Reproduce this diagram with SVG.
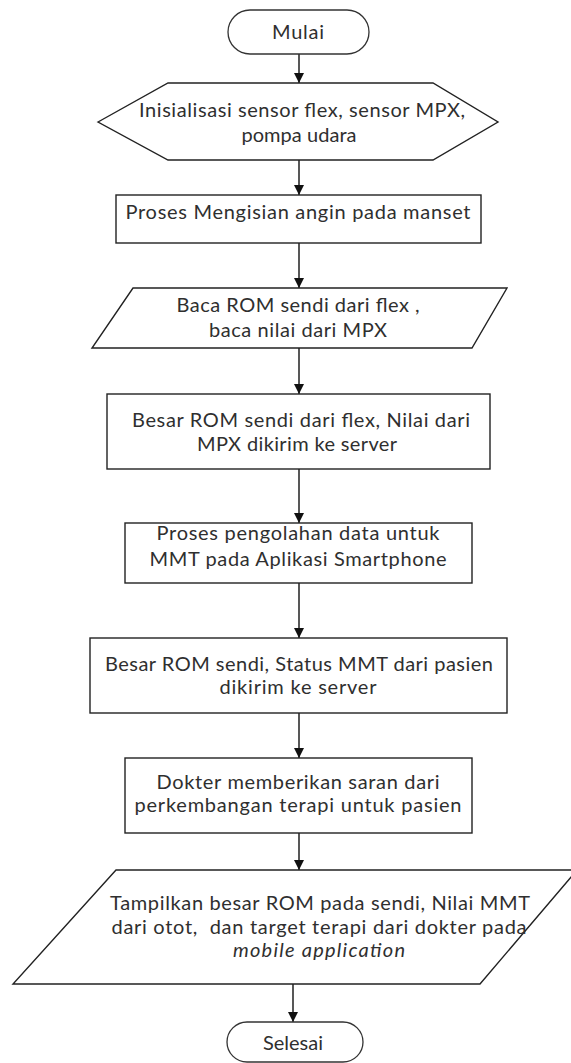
<svg xmlns="http://www.w3.org/2000/svg" width="571" height="1063" viewBox="0 0 571 1063">
  <style>
    .shape { fill: #ffffff; stroke: #222222; stroke-width: 1.4; }
    .term { fill: #ffffff; stroke: #333333; stroke-width: 1.3; }
    .label { font-family: Lato, "Open Sans", "Liberation Sans", sans-serif; font-size: 20px; fill: #2f2f2f; text-anchor: middle; white-space: pre; }
    .it { font-style: italic; }
    .flow { stroke: #111111; stroke-width: 1.4; fill: none; marker-end: url(#arrow); }
  </style>
  <defs>
    <marker id="arrow" markerUnits="userSpaceOnUse" markerWidth="10" markerHeight="10" refX="10" refY="5" orient="auto">
      <path d="M0,0 L10,5 L0,10 Z" fill="#111111"/>
    </marker>
  </defs>

  <rect width="571" height="1063" fill="#ffffff"/>

  <!-- connectors -->
  <g id="connectors">
    <line class="flow" x1="299" y1="54" x2="299" y2="83"/>
    <line class="flow" x1="299" y1="160" x2="299" y2="195"/>
    <line class="flow" x1="299" y1="243" x2="299" y2="288"/>
    <line class="flow" x1="299" y1="348" x2="299" y2="394"/>
    <line class="flow" x1="299" y1="469" x2="299" y2="523"/>
    <line class="flow" x1="299" y1="583" x2="299" y2="638"/>
    <line class="flow" x1="299" y1="713" x2="299" y2="758"/>
    <line class="flow" x1="299" y1="833" x2="299" y2="870"/>
    <line class="flow" x1="293" y1="984" x2="293" y2="1022"/>
  </g>

  <!-- start terminator -->
  <g id="start">
    <rect class="term" x="228" y="10" width="141" height="44" rx="22" ry="22"/>
    <text class="label" x="298" y="39" textLength="52">Mulai</text>
  </g>

  <!-- preparation: initialisation -->
  <g id="init">
    <polygon class="shape" points="98,122 168,83 433,83 498,122 433,160 168,160"/>
    <text class="label" x="302" y="117" textLength="326">Inisialisasi sensor flex, sensor MPX,</text>
    <text class="label" x="299" y="142" textLength="115">pompa udara</text>
  </g>

  <!-- process: inflate cuff -->
  <g id="inflate">
    <rect class="shape" x="116" y="195" width="365" height="48"/>
    <text class="label" x="298" y="219" textLength="345">Proses Mengisian angin pada manset</text>
  </g>

  <!-- input: read sensors -->
  <g id="read">
    <polygon class="shape" points="133,288 507,288 472,348 92,348"/>
    <text class="label" x="298" y="312" textLength="243">Baca ROM sendi dari flex ,</text>
    <text class="label" x="298" y="337" textLength="178">baca nilai dari MPX</text>
  </g>

  <!-- process: send to server -->
  <g id="send-raw">
    <rect class="shape" x="107" y="394" width="383" height="75"/>
    <text class="label" x="301" y="427" textLength="338">Besar ROM sendi dari flex, Nilai dari</text>
    <text class="label" x="297" y="451" textLength="200">MPX dikirim ke server</text>
  </g>

  <!-- process: MMT computation -->
  <g id="mmt">
    <rect class="shape" x="125" y="523" width="347" height="60"/>
    <text class="label" x="298" y="540" textLength="283">Proses pengolahan data untuk</text>
    <text class="label" x="298" y="566" textLength="297">MMT pada Aplikasi Smartphone</text>
  </g>

  <!-- process: send status -->
  <g id="send-status">
    <rect class="shape" x="90" y="638" width="417" height="75"/>
    <text class="label" x="299" y="671" textLength="388">Besar ROM sendi, Status MMT dari pasien</text>
    <text class="label" x="298" y="694" textLength="157">dikirim ke server</text>
  </g>

  <!-- process: doctor advice -->
  <g id="advice">
    <rect class="shape" x="125" y="758" width="347" height="75"/>
    <text class="label" x="298" y="789" textLength="283">Dokter memberikan saran dari</text>
    <text class="label" x="298" y="812" textLength="327">perkembangan terapi untuk pasien</text>
  </g>

  <!-- output: display on app -->
  <g id="display">
    <polygon class="shape" points="116,870 577,870 480,984 13,984"/>
    <text class="label" x="320" y="910" textLength="420">Tampilkan besar ROM pada sendi, Nilai MMT</text>
    <text class="label" x="319" y="934" textLength="415">dari otot,  dan target terapi dari dokter pada</text>
    <text class="label it" x="319" y="957" textLength="172">mobile application</text>
  </g>

  <!-- end terminator -->
  <g id="end">
    <rect class="term" x="227" y="1022" width="136" height="40" rx="20" ry="20"/>
    <text class="label" x="293" y="1050" textLength="60">Selesai</text>
  </g>
</svg>
